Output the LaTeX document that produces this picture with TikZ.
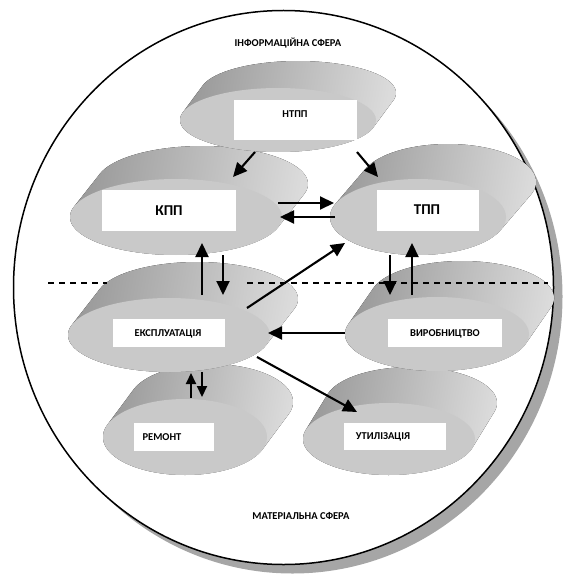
\documentclass[tikz,border=0pt]{standalone}
\usepackage{fontspec}
\setmainfont{Carlito}
\usetikzlibrary{arrows.meta}
\tikzset{
  sidegrad/.style={left color=gray!80, right color=gray!28, shading angle=80},
  frontface/.style={fill=gray!42},
  wbox/.style={fill=white, draw=none, inner sep=0pt},
  lbl/.style={font=\bfseries\fontsize{10.5}{12}\selectfont, inner sep=0pt},
  biglbl/.style={font=\bfseries\fontsize{15}{17}\selectfont, inner sep=0pt},
  arr/.style={line width=2.1pt, -{Triangle[length=14pt,width=13pt]}},
  sarr/.style={line width=2.1pt, -{Triangle[length=11pt,width=10pt]}},
  sep/.style={line width=1.2pt, dash pattern=on 6pt off 5pt},
}
\newcommand\cylshape[6]{%
  \pgfmathsetmacro\tz{atan(-(#4*#5)/(#3*#6))}%
  \pgfmathsetmacro\tzm{\tz-180}%
  \pgfmathsetmacro\tzp{\tz+180}%
  \fill[sidegrad] plot[domain=\tz:\tzm, samples=72] ({#1+#5+#3*cos(\x)},{#2+#6+#4*sin(\x)})
     -- plot[domain=\tzp:\tz, samples=72] ({#1+#3*cos(\x)},{#2+#4*sin(\x)}) -- cycle;
  \fill[frontface] (#1,#2) ellipse[x radius=#3, y radius=#4];
}
\begin{document}
\begin{tikzpicture}[x=1pt,y=-1pt]
\useasboundingbox (0,0) rectangle (564,575);
% sphere with shadow
\fill[black!35] (292.5,296.5) ellipse[x radius=270, y radius=277];
\filldraw[fill=white, draw=black, line width=1.5pt] (283.5,287.5) ellipse[x radius=270, y radius=277];
% shapes, bottom rows first
\cylshape{185}{437}{82}{38}{26}{-35}
\cylshape{389}{439}{86}{36}{22}{-36}
\cylshape{437}{334}{92}{37}{25}{-36}
\cylshape{169}{335}{101}{37}{28}{-36}
\cylshape{418}{217}{88}{38}{30}{-35}
\cylshape{176}{217}{106}{38}{26}{-33}
\cylshape{278}{120}{98}{32}{20}{-27}
% white boxes
\node[wbox, minimum width=123pt, minimum height=40pt] (ntppbox) at (295.5,120) {};
\node[wbox, minimum width=134pt, minimum height=41pt] (kppbox) at (169,210.5) {};
\node[wbox, minimum width=102pt, minimum height=41pt] (tppbox) at (428,210.5) {};
\node[wbox, minimum width=112pt, minimum height=28pt] (ekspbox) at (169,333) {};
\node[wbox, minimum width=114pt, minimum height=28pt] (virbox) at (445,333) {};
\node[wbox, minimum width=80pt, minimum height=28pt] (remontbox) at (174,437) {};
\node[wbox, minimum width=102pt, minimum height=27pt] (utilbox) at (395,436.5) {};
% labels
\node[lbl] (ntpp) at (295,114) {НТПП};
\node[biglbl] (kpp) at (169,211) {КПП};
\node[biglbl] (tpp) at (427,210) {ТПП};
\node[lbl] (eksp) at (168,334) {ЕКСПЛУАТАЦІЯ};
\node[lbl] (vir) at (445,334) {ВИРОБНИЦТВО};
\node[lbl] (remont) at (162,437) {РЕМОНТ};
\node[lbl] (util) at (383,437) {УТИЛІЗАЦІЯ};
\node[lbl, font=\bfseries\fontsize{10.5}{12}\selectfont] (info) at (288,43) {ІНФОРМАЦІЙНА СФЕРА};
\node[lbl, font=\bfseries\fontsize{10.5}{12}\selectfont] (mat) at (301,516) {МАТЕРІАЛЬНА СФЕРА};
% separator
\coordinate (d1) at (48,283); \coordinate (d2) at (107,283);
\coordinate (d3) at (247,283); \coordinate (d4) at (548,283);
\draw[sep] (d1) -- (d2);
\draw[sep] (d3) -- (d4);
% arrow endpoints
\coordinate (a1s) at (255,152); \coordinate (a1e) at (233,177);
\coordinate (a2s) at (357,152); \coordinate (a2e) at (378,177);
\coordinate (a3s) at (278,203); \coordinate (a3e) at (334,203);
\coordinate (a4s) at (335,217); \coordinate (a4e) at (280,217);
\coordinate (a5s) at (202,295); \coordinate (a5e) at (202,243);
\coordinate (a6s) at (223,255); \coordinate (a6e) at (223,295);
\coordinate (a7s) at (247,308); \coordinate (a7e) at (345,243);
\coordinate (a8s) at (390,255); \coordinate (a8e) at (390,295);
\coordinate (a9s) at (412,295); \coordinate (a9e) at (412,243);
\coordinate (a10s) at (345,333); \coordinate (a10e) at (268,333);
\coordinate (a11s) at (257,357); \coordinate (a11e) at (357,412);
\coordinate (a12s) at (191,398); \coordinate (a12e) at (191,373);
\coordinate (a13s) at (202,372); \coordinate (a13e) at (202,397);
\draw[arr] (a1s) -- (a1e);
\draw[arr] (a2s) -- (a2e);
\draw[arr] (a3s) -- (a3e);
\draw[arr] (a4s) -- (a4e);
\draw[arr] (a5s) -- (a5e);
\draw[arr] (a6s) -- (a6e);
\draw[arr] (a7s) -- (a7e);
\draw[arr] (a8s) -- (a8e);
\draw[arr] (a9s) -- (a9e);
\draw[arr] (a10s) -- (a10e);
\draw[arr] (a11s) -- (a11e);
\draw[sarr] (a12s) -- (a12e);
\draw[sarr] (a13s) -- (a13e);
\end{tikzpicture}
\end{document}
